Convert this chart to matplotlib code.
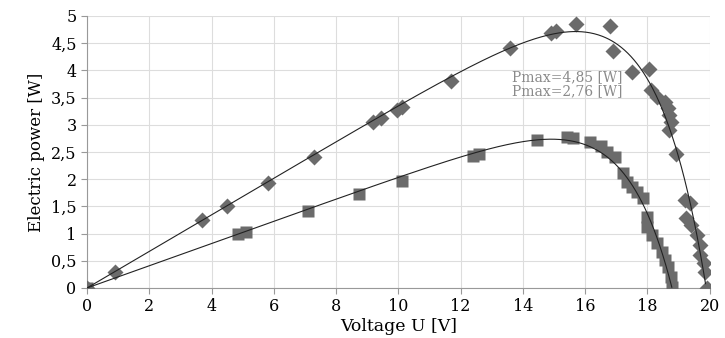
import numpy as np
import matplotlib
matplotlib.use("Agg")
import matplotlib.pyplot as plt
from matplotlib.ticker import FuncFormatter

# series 1 (diamonds)
u1 = [0, 0.9, 3.7, 4.5, 5.8, 7.3, 9.2, 9.45, 9.95, 10.1, 11.7, 13.6, 14.9, 15.05,
      15.7, 16.8, 16.9, 17.5, 18.05, 18.1, 18.3, 18.55, 18.65, 18.7, 18.75, 18.7,
      18.9, 19.2, 19.35, 19.25, 19.4, 19.6, 19.7, 19.7, 19.8, 19.85, 19.9]
p1 = [0, 0.3, 1.25, 1.51, 1.93, 2.41, 3.05, 3.12, 3.27, 3.33, 3.81, 4.41, 4.68, 4.72,
      4.86, 4.81, 4.36, 3.97, 4.03, 3.64, 3.51, 3.42, 3.3, 3.18, 3.05, 2.9,
      2.46, 1.62, 1.56, 1.29, 1.16, 0.97, 0.79, 0.6, 0.46, 0.3, 0.0]

# series 2 (squares)
u2 = [0, 4.85, 5.1, 7.1, 8.75, 10.1, 12.4, 12.6, 14.45, 15.4, 15.6, 16.15, 16.5,
      16.7, 16.95, 17.2, 17.35, 17.5, 17.65, 17.85, 18.0, 18.0, 18.15, 18.3, 18.45,
      18.55, 18.65, 18.75, 18.8]
p2 = [0, 1.0, 1.02, 1.42, 1.73, 1.97, 2.42, 2.47, 2.72, 2.77, 2.75, 2.69, 2.6,
      2.5, 2.41, 2.11, 1.95, 1.86, 1.77, 1.65, 1.31, 1.12, 0.97, 0.82, 0.66,
      0.51, 0.39, 0.2, 0.02]

labels = ["Pmax=4,85 [W]", "Pmax=2,76 [W]"]


def pv_fit(u, p):
    # fit P = U*(Isc - I0*(exp(U/a) - 1)) : simple diode model trend
    u = np.asarray(u, float)
    p = np.asarray(p, float)
    best = None
    for a in np.linspace(0.2, 4, 400):
        A = np.vstack([u, -u * (np.exp(u / a) - 1)]).T
        c, *_ = np.linalg.lstsq(A, p, rcond=None)
        r = np.sum((A @ c - p) ** 2)
        if best is None or r < best[0]:
            best = (r, a, c)
    _, a, c = best
    xs = np.linspace(0, u.max() + 0.3, 600)
    ys = xs * (c[0] - c[1] * (np.exp(xs / a) - 1))
    keep = ys >= 0
    return xs[keep], ys[keep]


plt.rcParams['font.family'] = ['DejaVu Serif']

fig = plt.figure(figsize=(7.25, 3.38), dpi=100)
ax = fig.add_axes([0.12, 0.148, 0.859, 0.805])

mcol = '#6b6b6b'
ax.plot(u1, p1, 'D', color=mcol, ms=8, mec='none', zorder=3)
ax.plot(u2, p2, 's', color=mcol, ms=9, mec='none', zorder=3)

for u, p in [(u1, p1), (u2, p2)]:
    xs, ys = pv_fit(u, p)
    ax.plot(xs, ys, color='#222222', lw=0.8, zorder=4)

ax.text(13.65, 3.88, labels[0], fontsize=10, color='#8a8a8a', va='center')
ax.text(13.65, 3.62, labels[1], fontsize=10, color='#8a8a8a', va='center')

ax.set_xlim(0, 20)
ax.set_ylim(0, 5)
ax.set_xticks(np.arange(0, 21, 2))
ax.set_yticks(np.arange(0, 5.01, 0.5))
ax.yaxis.set_major_formatter(FuncFormatter(lambda v, pos: ('%g' % v).replace('.', ',')))
ax.grid(True, color='#dddddd', lw=0.8)
ax.set_axisbelow(True)
for s in ['top', 'right']:
    ax.spines[s].set_visible(False)
for s in ['left', 'bottom']:
    ax.spines[s].set_color('#999999')
ax.tick_params(colors='#999999', labelcolor='black', labelsize=11.5, length=4)
ax.set_xlabel('Voltage U [V]', fontsize=12.5, labelpad=2)
ax.set_ylabel('Electric power [W]', fontsize=12, labelpad=4)

fig.savefig('out.png', dpi=100)
